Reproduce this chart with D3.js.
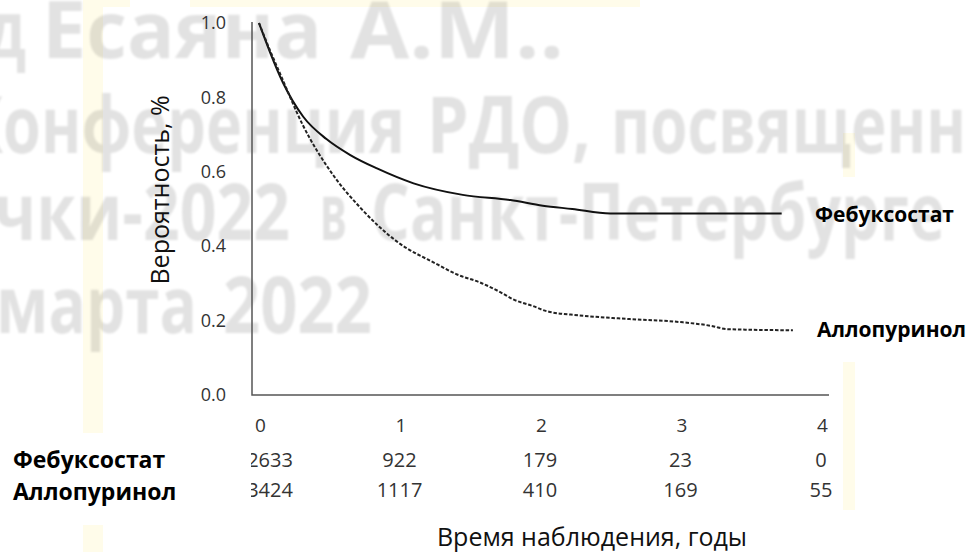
<!DOCTYPE html>
<html>
<head>
<meta charset="utf-8">
<script src="https://cdn.jsdelivr.net/npm/d3@7"></script>
<style>
  html, body { margin: 0; padding: 0; background: #fff; }
  svg { display: block; }
</style>
</head>
<body>
<div id="chart"></div>
<script>
// survival curves
const febTime = [0, 0.08, 0.17, 0.315, 0.48, 0.65, 0.84, 1.10, 1.45, 1.79, 2.02, 2.23, 2.50, 3.72];
const febSurv = [1.0, 0.92, 0.84, 0.748, 0.688, 0.645, 0.609, 0.569, 0.538, 0.524, 0.509, 0.50, 0.488, 0.488];

const alloTime = [0, 0.08, 0.16, 0.31, 0.53, 0.72, 0.98, 1.27, 1.41, 1.57, 1.72, 1.81, 1.95, 2.05, 2.28, 2.64, 3.0, 3.23, 3.33, 3.80];
const alloSurv = [1.0, 0.925, 0.855, 0.727, 0.59, 0.504, 0.413, 0.351, 0.324, 0.303, 0.276, 0.257, 0.239, 0.225, 0.214, 0.204, 0.196, 0.185, 0.177, 0.174];

// number at risk
const riskTimes = [0, 1, 2, 3, 4];
const febRisk = [2633, 922, 179, 23, 0];
const alloRisk = [3424, 1117, 410, 169, 55];

const seriesNames = ["Фебуксостат", "Аллопуринол"];
const yTicks = [0, 0.2, 0.4, 0.6, 0.8, 1.0];
const yTitle = "Вероятность, %";
const xTitle = "Время наблюдения, годы";

// watermark lines, split in words
const watermark = [
    ["д", "Есаяна", "А.М.."],
    ["Конференция", "РДО,", "посвященн"],
    ["чки-2022", "в", "Санкт-Петербурге"],
    ["марта", "2022"]
];
// word start x and width, line baselines (layout only)
const wmPos = [
    [[-14, 40], [42, 280], [350, 214]],
    [[-38, 443], [427, 164], [611, 355]],
    [[-6, 296], [320, 27], [371, 574]],
    [[-4, 201], [223, 149]]
];
const wmY = [58, 153, 240, 333];

const width = 975, height = 552;
const font = "'Open Sans', 'Noto Sans', sans-serif";

const svg = d3.select("#chart").append("svg")
    .attr("width", width)
    .attr("height", height);

const defs = svg.append("defs");
defs.append("filter").attr("id", "soft")
    .append("feGaussianBlur").attr("stdDeviation", 0.8);
defs.append("clipPath").attr("id", "riskClip")
    .append("rect").attr("x", 251).attr("y", 430).attr("width", 700).attr("height", 80);

// faint yellow bands behind the watermark
const bands = [[83, 0, 20, 433], [83, 525, 20, 27], [83, 0, 47, 7], [190, 0, 450, 7], [843, 133, 12, 44], [843, 362, 12, 148]];
svg.append("g").selectAll("rect")
    .data(bands)
    .join("rect")
    .attr("x", d => d[0]).attr("y", d => d[1])
    .attr("width", d => d[2]).attr("height", d => d[3])
    .attr("fill", "#fffcea");

// watermark text
const wm = svg.append("g").attr("filter", "url(#soft)");
watermark.forEach((words, li) => {
    wm.append("g").selectAll("text")
        .data(words)
        .join("text")
        .attr("x", (d, i) => wmPos[li][i][0])
        .attr("y", wmY[li])
        .attr("textLength", (d, i) => wmPos[li][i][1])
        .attr("lengthAdjust", "spacingAndGlyphs")
        .attr("font-family", font)
        .attr("font-weight", 700)
        .attr("font-size", 78)
        .attr("fill", "#000")
        .attr("fill-opacity", 0.115)
        .text(d => d);
});

const x = d3.scaleLinear().domain([0, 4]).range([259, 821]);
const y = d3.scaleLinear().domain([0, 1]).range([395, 23]);

// axis lines
svg.append("path")
    .attr("d", `M${x(0) - 7},${y(1) - 1}V${y(0)}H${x(4) + 8}`)
    .attr("fill", "none")
    .attr("stroke", "#555")
    .attr("stroke-width", 1.5);

const yAxis = svg.append("g")
    .attr("transform", `translate(${x(0) - 7},0)`)
    .call(d3.axisLeft(y).tickValues(yTicks).tickFormat(d3.format(".1f")).tickSize(0).tickPadding(26));
yAxis.select(".domain").remove();
yAxis.selectAll("text")
    .attr("font-family", font)
    .attr("font-size", 18)
    .attr("fill", "#333");

const xAxis = svg.append("g")
    .attr("transform", `translate(1,${y(0)})`)
    .call(d3.axisBottom(x).tickValues(riskTimes).tickFormat(d3.format("d")).tickSize(0).tickPadding(24));
xAxis.select(".domain").remove();
xAxis.selectAll("text")
    .attr("font-family", font)
    .attr("font-size", 19)
    .attr("fill", "#333");

// curves
const line = d3.line().curve(d3.curveMonotoneX);
svg.append("path")
    .attr("d", line(febTime.map((t, i) => [x(t), y(febSurv[i])])))
    .attr("fill", "none")
    .attr("stroke", "#111")
    .attr("stroke-width", 2);
svg.append("path")
    .attr("d", line(alloTime.map((t, i) => [x(t), y(alloSurv[i])])))
    .attr("fill", "none")
    .attr("stroke", "#222")
    .attr("stroke-width", 2)
    .attr("stroke-dasharray", "3.5,1.8");

// curve end labels
svg.append("text")
    .attr("x", x(4) - 6)
    .attr("y", y(febSurv[febSurv.length - 1]) + 9)
    .attr("font-family", font).attr("font-weight", 700).attr("font-size", 21)
    .attr("fill", "#000")
    .text(seriesNames[0]);
svg.append("text")
    .attr("x", x(4) - 4)
    .attr("y", y(alloSurv[alloSurv.length - 1]) + 7)
    .attr("font-family", font).attr("font-weight", 700).attr("font-size", 21)
    .attr("fill", "#000")
    .text(seriesNames[1]);

// number at risk table
const risk = svg.append("g").attr("clip-path", "url(#riskClip)");
[febRisk, alloRisk].forEach((row, r) => {
    risk.append("g").selectAll("text")
        .data(row)
        .join("text")
        .attr("x", (d, i) => x(riskTimes[i]) + (i === 0 ? 11 : 0))
        .attr("y", 467 + r * 30)
        .attr("text-anchor", "middle")
        .attr("font-family", font)
        .attr("font-size", 20)
        .attr("fill", "#333")
        .text(d => d);
});
svg.append("g").selectAll("text")
    .data(seriesNames)
    .join("text")
    .attr("x", 13)
    .attr("y", (d, i) => 468 + i * 32)
    .attr("font-family", font)
    .attr("font-weight", 700)
    .attr("font-size", 23)
    .attr("fill", "#000")
    .text(d => d);

// axis titles
svg.append("text")
    .attr("transform", `translate(169,190) rotate(-90)`)
    .attr("text-anchor", "middle")
    .attr("font-family", font)
    .attr("font-size", 25)
    .attr("fill", "#111")
    .text(yTitle);
svg.append("text")
    .attr("x", 592)
    .attr("y", 546)
    .attr("text-anchor", "middle")
    .attr("font-family", font)
    .attr("font-size", 25)
    .attr("fill", "#111")
    .text(xTitle);
</script>
</body>
</html>
